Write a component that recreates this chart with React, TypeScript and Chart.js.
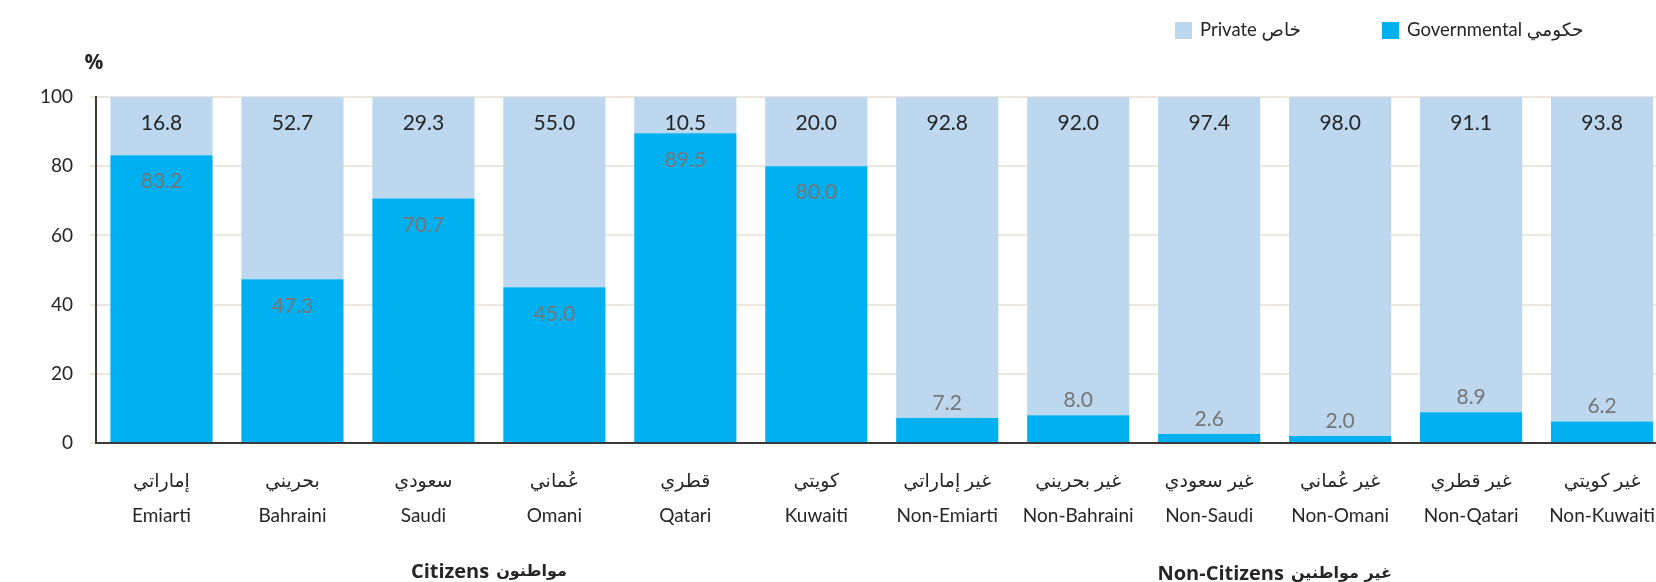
import React, { useEffect, useRef } from "react";
import { Chart, registerables } from "chart.js";

Chart.register(...registerables);

const categoriesAr = ["إماراتي", "بحريني", "سعودي", "عُماني", "قطري", "كويتي", "غير إماراتي", "غير بحريني", "غير سعودي", "غير عُماني", "غير قطري", "غير كويتي"];
const categoriesEn = ["Emiarti", "Bahraini", "Saudi", "Omani", "Qatari", "Kuwaiti", "Non-Emiarti", "Non-Bahraini", "Non-Saudi", "Non-Omani", "Non-Qatari", "Non-Kuwaiti"];
const governmental = [83.2, 47.3, 70.7, 45.0, 89.5, 80.0, 7.2, 8.0, 2.6, 2.0, 8.9, 6.2];
const privateSector = [16.8, 52.7, 29.3, 55.0, 10.5, 20.0, 92.8, 92.0, 97.4, 98.0, 91.1, 93.8];
const yTicks = [0, 20, 40, 60, 80, 100];
const seriesNames = ["Governmental حكومي", "Private خاص"];
const groupEn = ["Citizens", "Non-Citizens"];
const groupAr = ["مواطنون", "غير مواطنين"];
const groupRanges = [[0, 5], [6, 11]];
const axisTitle = "%";

const GOV_COLOR = "#00B0F0";
const PRIV_COLOR = "#BDD7EE";
const FONT = "Lato, 'DejaVu Sans', sans-serif";

const labelsPlugin = {
  id: "customLabels",
  afterDatasetsDraw(chart: any) {
    const ctx = chart.ctx;
    ctx.save();
    ctx.textAlign = "center";
    ctx.textBaseline = "middle";
    ctx.font = `21px ${FONT}`;
    const govMeta = chart.getDatasetMeta(0);
    const privMeta = chart.getDatasetMeta(1);
    privMeta.data.forEach((el: any, i: number) => {
      ctx.fillStyle = "#262626";
      ctx.fillText(privateSector[i].toFixed(1), el.x, el.y + 26.5);
    });
    govMeta.data.forEach((el: any, i: number) => {
      const v = governmental[i];
      ctx.fillStyle = "#767676";
      const y = v >= 20 ? el.y + 26.5 : el.y - 15;
      ctx.fillText(v.toFixed(1), el.x, y);
    });
    ctx.restore();
  },
  afterDraw(chart: any) {
    const ctx = chart.ctx;
    ctx.save();
    // legend
    ctx.textBaseline = "middle";
    ctx.textAlign = "left";
    ctx.font = `18.5px ${FONT}`;
    const items = [
      { x: 1175, color: PRIV_COLOR, text: seriesNames[1] },
      { x: 1382, color: GOV_COLOR, text: seriesNames[0] },
    ];
    items.forEach((it) => {
      ctx.fillStyle = it.color;
      ctx.fillRect(it.x, 22, 17, 17);
      ctx.fillStyle = "#262626";
      ctx.fillText(it.text, it.x + 25, 30);
    });
    // % title
    ctx.font = `bold 21px 'Open Sans', sans-serif`;
    ctx.textAlign = "center";
    ctx.fillStyle = "#262626";
    ctx.fillText(axisTitle, 94, 63);
    // group labels
    const x = chart.scales.x;
    const enFont = `bold 20px 'Open Sans', sans-serif`;
    const arFont = `bold 16px 'DejaVu Sans', sans-serif`;
    const gap = 7;
    groupRanges.forEach((r, g) => {
      const cx = (x.getPixelForValue(r[0]) + x.getPixelForValue(r[1])) / 2;
      ctx.font = enFont;
      const wEn = ctx.measureText(groupEn[g]).width;
      ctx.font = arFont;
      const wAr = ctx.measureText(groupAr[g]).width;
      const total = wEn + gap + wAr;
      const left = cx - total / 2;
      const y = g === 0 ? 572 : 574;
      ctx.textAlign = "left";
      ctx.font = enFont;
      ctx.fillText(groupEn[g], left, y);
      ctx.font = arFont;
      ctx.fillText(groupAr[g], left + wEn + gap, y);
    });
    ctx.restore();
  },
};

export default function App() {
  const ref = useRef<HTMLCanvasElement>(null);
  useEffect(() => {
    if (!ref.current) return;
    const chart = new Chart(ref.current, {
      type: "bar",
      data: {
        labels: categoriesEn.map((en, i) => [categoriesAr[i], en]),
        datasets: [
          { label: seriesNames[0], data: governmental, backgroundColor: GOV_COLOR, borderWidth: 0 },
          { label: seriesNames[1], data: privateSector, backgroundColor: PRIV_COLOR, borderWidth: 0 },
        ],
      },
      options: {
        responsive: false,
        animation: false,
        devicePixelRatio: 1,
        layout: { padding: { top: 97, left: 0, right: 0, bottom: 0 } },
        datasets: { bar: { categoryPercentage: 1, barPercentage: 0.78 } },
        plugins: { legend: { display: false }, tooltip: { enabled: false } },
        scales: {
          x: {
            stacked: true,
            grid: { display: false, drawTicks: false },
            border: { display: true, color: "#3a3a3a", width: 2 },
            ticks: {
              color: "#262626",
              font: { family: FONT, size: 19, lineHeight: 35 / 19 },
              padding: 20,
              maxRotation: 0,
              autoSkip: false,
            },
            afterFit(scale: any) {
              scale.height = 139;
            },
          },
          y: {
            stacked: true,
            min: 0,
            max: 100,
            afterBuildTicks(scale: any) {
              scale.ticks = yTicks.map((v) => ({ value: v }));
            },
            grid: { color: "#ECE8DF", lineWidth: 2, drawTicks: true, tickLength: 6 },
            border: { display: true, color: "#3a3a3a", width: 2 },
            ticks: {
              color: "#262626",
              font: { family: FONT, size: 19 },
              padding: 17,
            },
            afterFit(scale: any) {
              scale.width = 96;
            },
          },
        },
      },
      plugins: [labelsPlugin],
    });
    return () => chart.destroy();
  }, []);
  return (
    <div style={{ position: "absolute", left: 0, top: 0, width: 1656, height: 582, overflow: "hidden", background: "#fff" }}>
      <canvas ref={ref} width={1675} height={582} style={{ display: "block" }} />
    </div>
  );
}
